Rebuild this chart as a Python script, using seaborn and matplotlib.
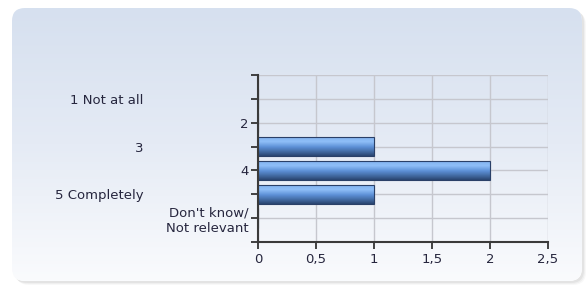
import numpy as np
import pandas as pd
import matplotlib
matplotlib.use("Agg")
import matplotlib.pyplot as plt
import seaborn as sns
from matplotlib.patches import FancyBboxPatch
from matplotlib.colors import LinearSegmentedColormap

# ---- data ----
categories = ["1 Not at all", "2", "3", "4", "5 Completely", "Don't know/\nNot relevant"]
counts = [0, 0, 1, 2, 1, 0]
x_ticks = [0, 0.5, 1, 1.5, 2, 2.5]
x_tick_labels = ["0", "0,5", "1", "1,5", "2", "2,5"]

df = pd.DataFrame({"category": categories, "count": counts})

sns.set_theme(style="white")
plt.rcParams["font.family"] = ["DejaVu Sans"]

W, H = 587, 286
fig = plt.figure(figsize=(W / 100, H / 100), dpi=100)
fig.patch.set_facecolor("white")

# ---- background panel (decorative) ----
bg = fig.add_axes([0, 0, 1, 1], zorder=-10)
bg.set_xlim(0, W)
bg.set_ylim(H, 0)
bg.axis("off")
for off, a in [(4, 0.05), (3, 0.07), (2, 0.10)]:
    sh = FancyBboxPatch((12 + off, 8 + off), 570, 273, boxstyle="round,pad=0,rounding_size=13",
                        facecolor="#808080", edgecolor="none", alpha=a, zorder=0)
    bg.add_patch(sh)
panel = FancyBboxPatch((12, 8), 570, 273, boxstyle="round,pad=0,rounding_size=13",
                       facecolor="white", edgecolor="none", zorder=1)
bg.add_patch(panel)
cmap_bg = LinearSegmentedColormap.from_list("bg", ["#d6e0ef", "#e5ebf5", "#fafbfd"])
grad = np.linspace(0, 1, 256).reshape(-1, 1)
im = bg.imshow(grad, cmap=cmap_bg, extent=[12, 582, 281, 8], aspect="auto",
               origin="upper", zorder=2)
im.set_clip_path(panel)

# ---- main axes ----
ax = fig.add_axes([258 / W, 1 - 242 / H, 290 / W, 167 / H])
ax.set_facecolor("none")

sns.barplot(data=df, x="count", y="category", order=categories, orient="h",
            width=0.82, color="#5f93dc", edgecolor="#2a4068", linewidth=0.8, ax=ax)

ax.set_xlim(0, 2.5)
ax.set_ylim(len(categories), -1)

# gradient fill for bars
cmap_bar = LinearSegmentedColormap.from_list(
    "bar", [(0.0, "#4a78c0"), (0.1, "#86b6f2"), (0.28, "#8fbef7"),
            (0.55, "#5c8fd6"), (0.8, "#41689f"), (1.0, "#2a4570")])
bgrad = np.linspace(0, 1, 64).reshape(-1, 1)
for p in list(ax.patches):
    w = p.get_width()
    if w <= 0:
        continue
    x0, y0, h = p.get_x(), p.get_y(), p.get_height()
    bim = ax.imshow(bgrad, cmap=cmap_bar, extent=[x0, x0 + w, y0 + h, y0],
                    aspect="auto", origin="upper", zorder=2)
    bim.set_clip_path(p)
    p.set_facecolor("none")
    p.set_zorder(3)
ax.set_xlim(0, 2.5)
ax.set_ylim(len(categories), -1)

# ticks
ax.set_xticks(x_ticks)
ax.set_xticklabels(x_tick_labels)
ax.set_yticks(range(len(categories)))
ax.set_yticklabels(categories)
ax.set_yticks([-1, len(categories)], minor=True)
ax.set_xlabel("")
ax.set_ylabel("")

txt_color = "#26263e"
ax.tick_params(axis="both", which="both", direction="out", length=5, width=1.3,
               color="#333333", labelsize=9.5, labelcolor=txt_color,
               left=True, bottom=True)
ax.tick_params(axis="x", pad=3)
for i, t in enumerate(ax.yaxis.get_major_ticks()):
    t.set_pad(77.5 if i % 2 == 0 else 1.5)

ax.grid(True, which="both", color="#c6c7ce", linewidth=1.0)
ax.set_axisbelow(True)
for s in ["top", "right"]:
    ax.spines[s].set_visible(False)
for s in ["left", "bottom"]:
    ax.spines[s].set_color("#3a3a3a")
    ax.spines[s].set_linewidth(1.5)
    ax.spines[s].set_zorder(5)

fig.savefig("out.png", dpi=100)
